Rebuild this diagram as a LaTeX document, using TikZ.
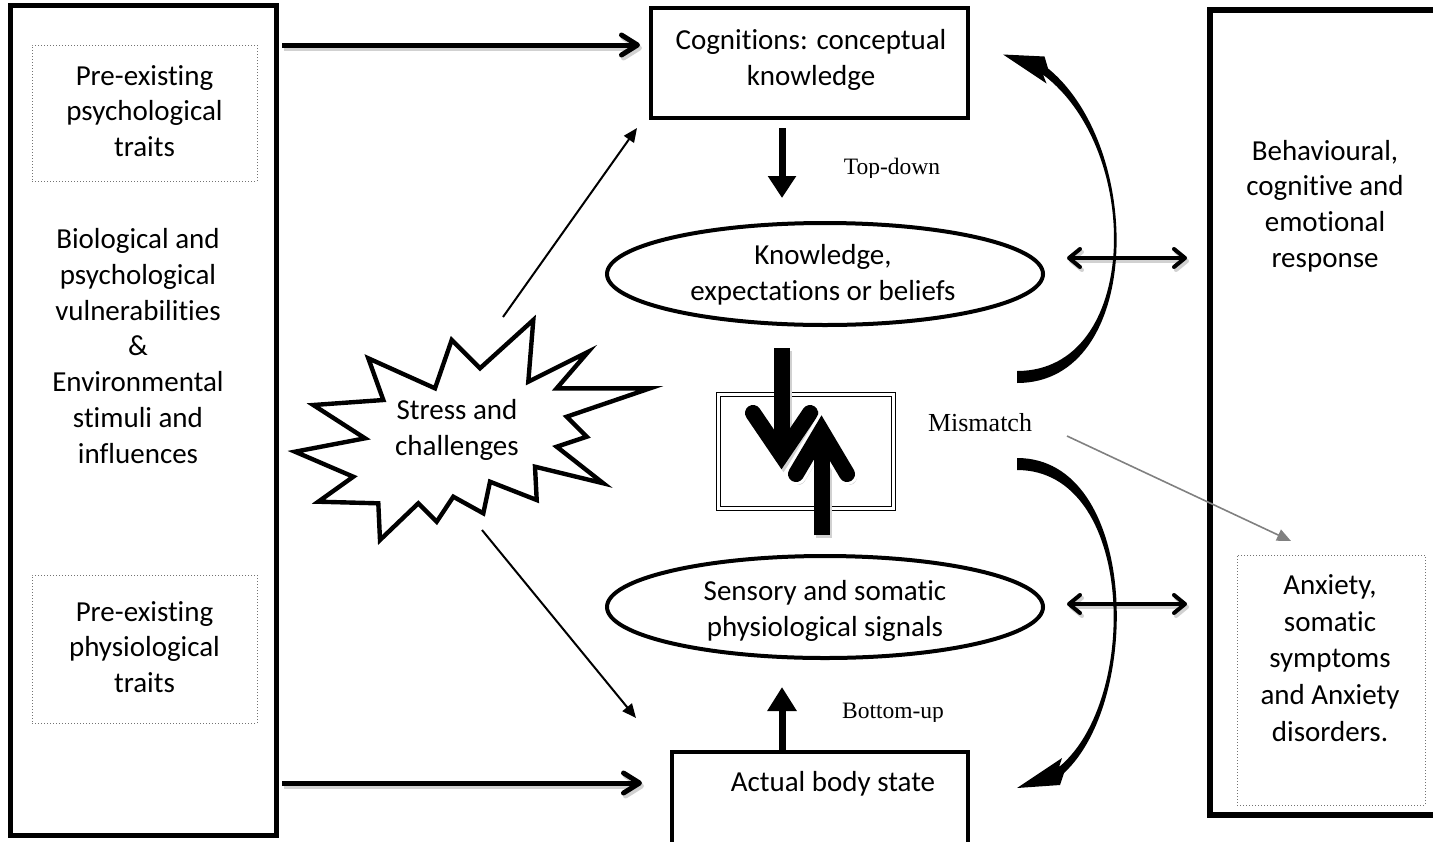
\documentclass[tikz,border=0pt]{standalone}
\usepackage{fontspec}
\setmainfont{Carlito}[RawFeature={-liga,-clig,-calt,-dlig}]
\newfontfamily\tnr{Liberation Serif}
\usetikzlibrary{arrows.meta,shapes.geometric,fit}
\begin{document}
\begin{tikzpicture}[x=0.5pt,y=-0.5pt,
  txt/.style={align=center,font=\fontsize{14.5pt}{17.85pt}\selectfont,inner sep=0pt},
  serif/.style={font=\tnr\fontsize{11.75pt}{14pt}\selectfont,inner sep=0pt},
  dotbox/.style={draw=black!55,densely dotted,line width=0.5pt,inner sep=0pt},
  bigbox/.style={draw,inner sep=0pt},
  barbarrow/.style={line width=2.5pt,-{Straight Barb[length=8pt,width=10pt,round]}},
  twoway/.style={line width=2pt,{Straight Barb[length=5.5pt,width=9pt,round]}-{Straight Barb[length=5.5pt,width=9pt,round]}},
  fatarrow/.style={line width=3.5pt,-{Triangle[length=11pt,width=13.5pt]}},
  thinarrow/.style={line width=1pt,-{Triangle[length=7pt,width=6pt]}},
  greyarrow/.style={line width=0.8pt,draw=black!50,-{Triangle[length=7pt,width=6pt,fill=black!50]}},
  shaft/.style={line width=8pt},
  chevron/.style={line width=8pt,line cap=round,line join=miter},
]
\useasboundingbox (0,0) rectangle (1433,841);
\clip (0,0) rectangle (1433,841);

% ---------- left column ----------
\node[bigbox,line width=2.5pt,minimum width=133pt,minimum height=415pt] (leftbox) at (143,420) {};
\node[dotbox,minimum width=112.5pt,minimum height=68pt] (psybox) at (144.5,113) {};
\node[txt] (psytxt) at (144.5,111) {Pre-existing\\psychological\\traits};
\node[txt] (biotxt) at (138,346) {Biological and\\psychological\\vulnerabilities\\\&\\Environmental\\stimuli and\\influences};
\node[dotbox,minimum width=112.5pt,minimum height=74pt] (phybox) at (144.5,649) {};
\node[txt] (phytxt) at (144.5,647) {Pre-existing\\physiological\\traits};

% ---------- centre column ----------
\node[bigbox,line width=2pt,minimum width=158.5pt,minimum height=55pt] (cog) at (809.5,63) {};
\node[txt] (cogtxt) at (811,60) {Cognitions: conceptual\\knowledge};

\node[ellipse,draw,line width=2pt,minimum width=218pt,minimum height=51pt,inner sep=0pt] (know) at (825,274) {};
\node[txt] (knowtxt) at (823,275) {Knowledge,\\expectations or beliefs};

\node[ellipse,draw,line width=2pt,minimum width=218pt,minimum height=51pt,inner sep=0pt] (sens) at (825,607) {};
\node[txt] (senstxt) at (825,611) {Sensory and somatic\\physiological signals};

\node[bigbox,line width=2pt,minimum width=148pt,minimum height=54pt] (body) at (820,806) {};
\node[txt] (bodytxt) at (833,784) {Actual body state};

\node[draw,double,double distance=1.5pt,line width=0.6pt,minimum width=87.5pt,minimum height=57pt,inner sep=0pt] (mm) at (806,451.5) {};
\node[font=\tnr\fontsize{13pt}{15pt}\selectfont,inner sep=0pt] (mmtxt) at (980,423) {Mismatch};

\begin{scope}
  \clip (820,140) rectangle (980,177);
  \node[serif,anchor=base] (tdtxt) at (892,174) {Top-down};
\end{scope}
\begin{scope}
  \clip (820,690) rectangle (980,721);
  \node[serif,anchor=base] (butxt) at (893,718) {Bottom-up};
\end{scope}

% ---------- right column ----------
\node[bigbox,line width=3pt,minimum width=125pt,minimum height=402.5pt] (rightbox) at (1335,412.5) {};
\node[txt] (resptxt) at (1325,206) {Behavioural,\\cognitive and\\emotional\\response};
\node[dotbox,minimum width=94pt,minimum height=125pt] (anxbox) at (1331,680) {};
\node[txt,font=\fontsize{14.5pt}{18.3pt}\selectfont] (anxtxt) at (1330,658) {Anxiety,\\somatic\\symptoms\\and Anxiety\\disorders.};

% ---------- stress starburst ----------
\draw[line width=2.2pt,line join=miter,fill=white] (368.3,358.3) -- (435,388.3) -- (451.7,340) -- (480,368.3) -- (533.3,320) -- (528.3,381.7) -- (588.3,351.7) -- (556.7,388.3) -- (650,388.3) -- (566.7,416.7) -- (586.7,436.7) -- (556.7,446.7) -- (603.3,483.3) -- (535,466.7) -- (536.7,500) -- (490,481.7) -- (483.3,513.3) -- (453.3,496.7) -- (436.7,521.7) -- (418.3,503.3) -- (380,540) -- (378.3,503.3) -- (318.3,501.7) -- (353.3,476.7) -- (295,451.7) -- (365,438.3) -- (313.3,405) -- (383.3,400) -- cycle;
\node[txt] (stress) at (457,430) {Stress and\\challenges};

% ---------- coordinates for connector ends ----------
\coordinate (h1s) at (282,45);  \coordinate (h1e) at (640,45);
\coordinate (h2s) at (282,783); \coordinate (h2e) at (642,783);
\coordinate (b1s) at (1067,258); \coordinate (b1e) at (1187,258);
\coordinate (b2s) at (1067,604); \coordinate (b2e) at (1187,604);
\coordinate (tds) at (782,128); \coordinate (tde) at (782,198);
\coordinate (bus) at (782,751); \coordinate (bue) at (782,687);
\coordinate (st1) at (503,317); \coordinate (st1e) at (637,128);
\coordinate (st2) at (482,530); \coordinate (st2e) at (636,718);
\coordinate (gs) at (1067,436); \coordinate (ge) at (1291,541);

% ---------- shadows ----------
\begin{scope}[transform canvas={shift={(1pt,-1.5pt)}},black!18]
  \draw[barbarrow,black!18] (h1s) -- (h1e);
  \draw[barbarrow,black!18] (h2s) -- (h2e);
  \draw[twoway,black!18] (b1s) -- (b1e);
  \draw[twoway,black!18] (b2s) -- (b2e);
\end{scope}

% ---------- connectors ----------
\draw[barbarrow] (h1s) -- (h1e);
\draw[barbarrow] (h2s) -- (h2e);
\draw[twoway] (b1s) -- (b1e);
\draw[twoway] (b2s) -- (b2e);
\draw[fatarrow] (tds) -- (tde);
\draw[fatarrow,-{Triangle[length=12pt,width=14pt]}] (bus) -- (bue);
\draw[thinarrow] (st1) -- (st1e);
\draw[thinarrow] (st2) -- (st2e);
\draw[greyarrow] (gs) -- (ge);

% ---------- mismatch arrows ----------
\begin{scope}[transform canvas={shift={(1pt,-1.5pt)}}]
  \draw[shaft,black!18] (781.5,348) -- (781.5,452);
  \draw[chevron,black!18] (753,413) -- (781.5,455) -- (810,413);
\end{scope}
\draw[shaft] (781.5,348) -- (781.5,452);
\draw[chevron] (753,413) -- (781.5,455) -- (810,413);
\begin{scope}[transform canvas={shift={(1pt,-1.5pt)}}]
  \draw[shaft,black!18] (821.5,535) -- (821.5,434);
  \draw[chevron,black!18] (796,474) -- (821.5,431) -- (847,474);
\end{scope}
\draw[white,line width=11pt,line cap=round,line join=miter] (796,474) -- (821.5,431) -- (847,474);
\draw[shaft] (821.5,535) -- (821.5,434);
\draw[chevron] (796,474) -- (821.5,431) -- (847,474);

% ---------- curved arrows ----------
\fill (1017,383) .. controls (1143,383) and (1145,148) .. (1048,68.4) -- (1044.5,56.5) -- (1003,54.5) -- (1046.5,83.5) -- (1043,74.6) .. controls (1143,150) and (1140,371) .. (1017,371) -- cycle;
\fill (1017,458) .. controls (1138,458) and (1143,700) .. (1064,773) -- (1060,785) -- (1017,788) -- (1062,758) -- (1059,767) .. controls (1140,700) and (1135,470) .. (1017,470) -- cycle;
\end{tikzpicture}
\end{document}
